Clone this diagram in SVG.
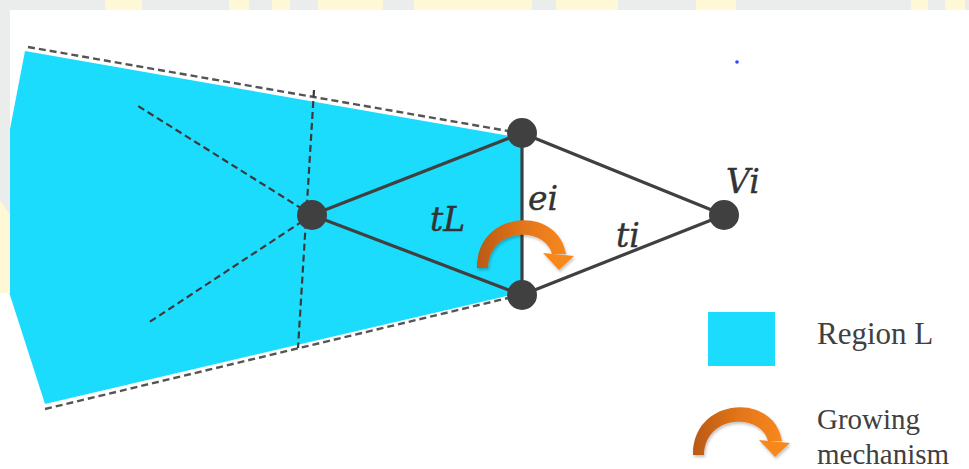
<svg xmlns="http://www.w3.org/2000/svg" width="969" height="469" viewBox="0 0 969 469">
<style>
.edge{stroke:#404040;stroke-width:3.2;fill:none;stroke-linecap:round}
.dash{stroke:#3a3a3a;stroke-width:2.2;fill:none;stroke-dasharray:7 4}
.odash{stroke:#555;stroke-width:2.4;fill:none;stroke-dasharray:7 4}
.node{fill:#404040}
.lbl{font-family:"DejaVu Serif",serif;font-style:italic;font-size:33px;fill:#333;stroke:#333;stroke-width:0.4}
.leg{font-family:"Liberation Serif","Times New Roman",serif;font-size:31px;fill:#404040}
.leg2{font-family:"Liberation Serif","Times New Roman",serif;font-size:29px;fill:#404040}
.wm{fill:#fff8d6}
</style>
<defs>
<linearGradient id="og" x1="0" y1="0" x2="1" y2="0">
<stop offset="0" stop-color="#b95a12"/>
<stop offset="0.5" stop-color="#e2741a"/>
<stop offset="1" stop-color="#f7881f"/>
</linearGradient>
<filter id="sh" x="-20%" y="-20%" width="140%" height="150%">
<feDropShadow dx="1" dy="2" stdDeviation="1.5" flood-color="#000" flood-opacity="0.25"/>
</filter>
<g id="grow" filter="url(#sh)">
<path d="M477,268 C476,210 558,204 566,254 L552,254 C545,226 489,227 488,268 Z" fill="url(#og)"/>
<polygon points="543,253 574,256 559,270" fill="#f7881f"/>
</g>
</defs>
<!-- background -->
<rect x="0" y="0" width="969" height="469" fill="#ebecec"/>
<g id="watermark">
<rect class="wm" x="105" y="0" width="37" height="10"/>
<rect class="wm" x="229" y="0" width="20" height="10"/>
<rect class="wm" x="272" y="0" width="18" height="10"/>
<rect class="wm" x="318" y="0" width="65" height="10"/>
<rect class="wm" x="414" y="0" width="118" height="10"/>
<rect class="wm" x="556" y="0" width="62" height="10"/>
<rect class="wm" x="696" y="0" width="40" height="10"/>
<rect class="wm" x="911" y="0" width="17" height="10"/>
<rect class="wm" x="945" y="0" width="20" height="10"/>
</g>
<rect x="10" y="10" width="959" height="459" fill="#ffffff"/>
<rect x="0" y="293" width="10" height="176" fill="#ffffff"/>
<!-- region L -->
<path id="regionL" d="M25,51 L515,137 L522,137 L522,294 L515,294 L45,404 L-10,233 Z" fill="#1cdcfe"/>
<rect x="0" y="0" width="10" height="293" fill="#ebecec"/>
<polygon class="wm" points="0,200 10,215 10,293 0,293"/>
<!-- connectors -->
<g id="connectors">
<line class="odash" x1="28" y1="47" x2="508" y2="131"/>
<line class="odash" x1="45" y1="409" x2="508" y2="298"/>
<line class="dash" x1="312" y1="215" x2="138" y2="106"/>
<line class="dash" x1="312" y1="215" x2="148" y2="323"/>
<line class="dash" x1="314" y1="90" x2="298" y2="348"/>
<line class="edge" x1="312" y1="215" x2="522" y2="133"/>
<line class="edge" x1="312" y1="215" x2="522" y2="295"/>
<line class="edge" x1="522" y1="133" x2="522" y2="295"/>
<line class="edge" x1="522" y1="133" x2="724" y2="215"/>
<line class="edge" x1="522" y1="295" x2="724" y2="215"/>
</g>
<!-- nodes -->
<g id="node-left"><circle class="node" cx="312" cy="215" r="15"/></g>
<g id="node-top"><circle class="node" cx="522" cy="133" r="15"/></g>
<g id="node-bottom"><circle class="node" cx="522" cy="295" r="15"/></g>
<g id="node-vi"><circle class="node" cx="724" cy="215" r="15"/><text class="lbl" x="726" y="193">Vi</text></g>
<!-- labels -->
<text class="lbl" x="430" y="231">tL</text>
<text class="lbl" x="528" y="210">ei</text>
<text class="lbl" x="616" y="247">ti</text>
<!-- growing arrow -->
<use href="#grow"/>
<circle cx="737" cy="62" r="1.8" fill="#3344ff"/>
<!-- legend -->
<g id="legend-region">
<rect x="708" y="312" width="67" height="54" fill="#1cdcfe"/>
<text class="leg" x="817" y="344">Region L</text>
</g>
<g id="legend-growing">
<use href="#grow" transform="translate(216,187)"/>
<text class="leg2" x="817" y="429">Growing</text>
<text class="leg2" x="817" y="464">mechanism</text>
</g>
</svg>
